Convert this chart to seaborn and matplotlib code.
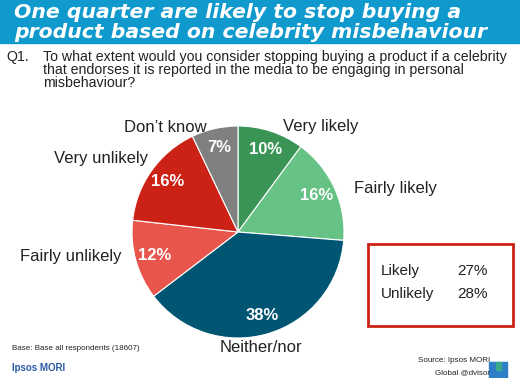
import numpy as np
import matplotlib
matplotlib.use("Agg")
import matplotlib.pyplot as plt
import seaborn as sns
from matplotlib.patches import Rectangle

# ==============================
# DATA
# ==============================
categories = ["Very likely", "Fairly likely", "Neither/nor",
              "Fairly unlikely", "Very unlikely", "Don\u2019t know"]
shares = [10, 16, 38, 12, 16, 7]
colors = ["#3a9455", "#66c285", "#005573", "#e8554c", "#cc2216", "#808080"]

summary_labels = ["Likely", "Unlikely"]
summary_values = [27, 28]

title_lines = ["One quarter are likely to stop buying a",
               "product based on celebrity misbehaviour"]
question_lines = ["To what extent would you consider stopping buying a product if a celebrity",
                  "that endorses it is reported in the media to be engaging in personal",
                  "misbehaviour?"]

# label anchor points (pixels, from top-left) and alignment
label_pos = [(283, 126, "left"), (354, 188, "left"), (261, 348, "center"),
             (122, 257, "right"), (148, 158, "right"), (207, 127, "right")]

# ==============================
# FIGURE
# ==============================
sns.set_theme(style="white")
plt.rcParams['font.family'] = ['Liberation Sans', 'DejaVu Sans']

W, H = 520, 378
fig = plt.figure(figsize=(W / 100, H / 100), dpi=100)
ax = fig.add_axes([0, 0, 1, 1])

total = sum(shares)
cx, cy, r = 238, H - 232, 106

wedges, _, autotexts = ax.pie(
    shares,
    colors=colors,
    startangle=90,
    counterclock=False,
    center=(cx, cy),
    radius=r,
    autopct=lambda p: f"{p * total / 100:.0f}%",
    pctdistance=0.82,
    wedgeprops=dict(edgecolor="white", linewidth=0.8),
    textprops=dict(color="white", fontsize=12, fontweight="bold"),
)

ax.set_xlim(0, W)
ax.set_ylim(0, H)
ax.set_aspect("equal")
ax.axis("off")

for (x, y, ha), name in zip(label_pos, categories):
    ax.text(x, H - y, name, ha=ha, va="center", fontsize=12, color="#222222")

# header band
ax.add_patch(Rectangle((0, H - 43), W, 43, color="#0f99cc", zorder=0))
for i, line in enumerate(title_lines):
    ax.text(14, H - 12 - i * 20, line, ha="left", va="center", color="white",
            fontsize=14.7, fontweight="heavy", style="italic",
            family="DejaVu Sans")

# question
ax.text(6, H - 57, "Q1.", ha="left", va="center", fontsize=10.2, color="#222222")
for i, line in enumerate(question_lines):
    ax.text(43, H - 57 - i * 13, line, ha="left", va="center", fontsize=10.2,
            color="#222222")

# summary box
ax.add_patch(Rectangle((368, H - 326), 145, 82, fill=False,
                       edgecolor="#cc2216", linewidth=2))
for i, (lab, val) in enumerate(zip(summary_labels, summary_values)):
    yy = H - 271 - i * 23
    ax.text(381, yy, lab, ha="left", va="center", fontsize=11, color="#222222")
    ax.text(457, yy, f"{val}%", ha="left", va="center", fontsize=11, color="#222222")

# footer
ax.text(12, H - 349, "Base: Base all respondents (18607)", ha="left", va="center",
        fontsize=5.8, color="#222222")
ax.text(12, H - 368, "Ipsos MORI", ha="left", va="center", fontsize=7,
        fontweight="bold", color="#2a5ca8")
ax.text(490, H - 361, "Source: Ipsos MORI", ha="right", va="center",
        fontsize=5.8, color="#222222")
ax.text(490, H - 373, "Global @dvisor", ha="right", va="center",
        fontsize=5.8, color="#222222")
ax.add_patch(Rectangle((489, H - 378), 18, 16, color="#2f7fc8", zorder=1))
ax.add_patch(Rectangle((496, H - 370), 5, 8, color="#3aa88a", zorder=2))

fig.savefig("out.png", dpi=100)
